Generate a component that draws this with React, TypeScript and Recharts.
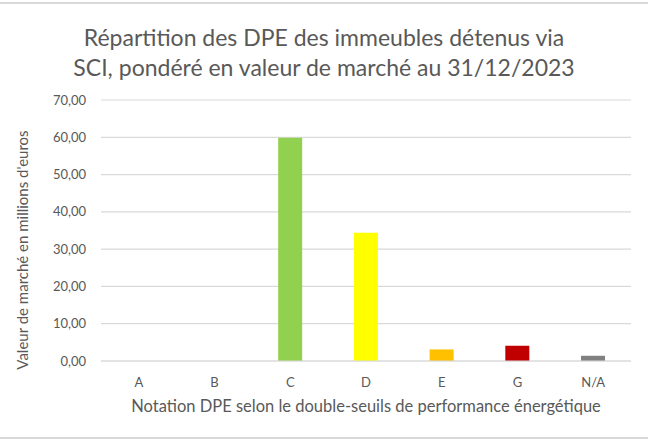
import { BarChart, Bar, XAxis, YAxis, CartesianGrid, Cell } from 'recharts';

const categories = ['A', 'B', 'C', 'D', 'E', 'G', 'N/A'];
const values = [0, 0, 59.9, 34.4, 3.1, 4.1, 1.4];
const barColors = ['#92D050', '#92D050', '#92D050', '#FFFF00', '#FFC000', '#C00000', '#808080'];
const yTicks = [0, 10, 20, 30, 40, 50, 60, 70];

const data = categories.map((c, i) => ({ name: c, value: values[i] }));

const TEXT = '#595959';
const FONT = 'Lato, "Noto Sans", sans-serif';

const fmt = (v: number) => v.toFixed(2).replace('.', ',');

export default function App() {
  return (
    <div style={{ position: 'fixed', left: 0, top: 0, width: 648, height: 441, background: '#fff', fontFamily: FONT }}>
      <div style={{ position: 'absolute', left: 0, top: 2, width: 648, height: 2, background: '#d9d9d9' }} />
      <div style={{ position: 'absolute', left: 0, top: 437, width: 648, height: 2, background: '#d9d9d9' }} />
      <div style={{ position: 'absolute', left: 0, top: 22, width: 648, textAlign: 'center', color: TEXT, fontSize: 23, lineHeight: '30px' }}>
        Répartition des DPE des immeubles détenus via
        <br />
        SCI, pondéré en valeur de marché au 31/12/2023
      </div>
      <div
        style={{
          position: 'absolute', left: 22, top: 250, width: 300, marginLeft: -150, marginTop: -10, height: 20,
          textAlign: 'center', color: TEXT, fontSize: 15, lineHeight: '20px', transform: 'rotate(-90deg)', whiteSpace: 'nowrap',
        }}
      >
        Valeur de marché en millions d'euros
      </div>
      <BarChart
        width={648}
        height={441}
        data={data}
        margin={{ top: 100, right: 17, bottom: 50, left: 0 }}
        barCategoryGap="34%"
        style={{ position: 'absolute', left: 0, top: 0 }}
      >
        <CartesianGrid vertical={false} stroke="#d9d9d9" strokeWidth={1.2} />
        <XAxis
          dataKey="name"
          height={30}
          tickLine={false}
          axisLine={{ stroke: '#d9d9d9', strokeWidth: 1.2 }}
          tickMargin={11}
          tick={{ fill: TEXT, fontSize: 13, fontFamily: FONT }}
          label={{ value: 'Notation DPE selon le double-seuils de performance énergétique', position: 'bottom', offset: 9, fill: TEXT, fontSize: 16.5, fontFamily: FONT }}
        />
        <YAxis
          width={101}
          domain={[0, 70]}
          ticks={yTicks}
          tickFormatter={fmt}
          tickLine={false}
          axisLine={false}
          tickMargin={9}
          tick={{ fill: TEXT, fontSize: 13, fontFamily: FONT }}
        />
        <Bar dataKey="value" isAnimationActive={false}>
          {data.map((d, i) => (
            <Cell key={d.name} fill={barColors[i]} />
          ))}
        </Bar>
      </BarChart>
    </div>
  );
}
